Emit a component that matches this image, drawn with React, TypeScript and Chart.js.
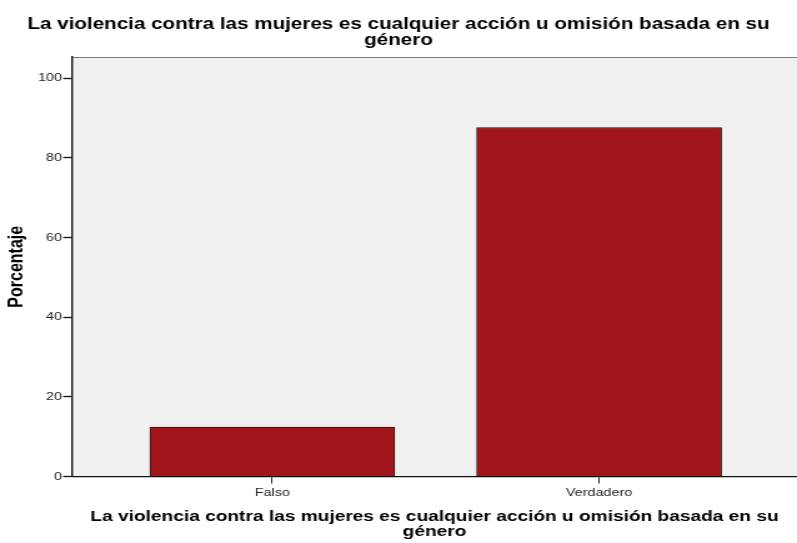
import React, { useEffect, useRef } from "react";
import { Chart, registerables } from "chart.js";

Chart.register(...registerables);

const TITLE_LINES = [
  "La violencia contra las mujeres es cualquier acción u omisión basada en su",
  "género",
];
const X_TITLE_LINES = [
  "La violencia contra las mujeres es cualquier acción u omisión basada en su",
  "género",
];
const Y_TITLE = "Porcentaje";
const CATEGORIES = ["Falso", "Verdadero"];
const PERCENTS = [12.4, 87.6];
const Y_TICKS = [0, 20, 40, 60, 80, 100];

const CSS_W = 797;
const CSS_H = 543;
const STRETCH = 1.25;
const W = Math.round(CSS_W / STRETCH);
const FONT = "'Liberation Sans', Arial, sans-serif";

const plotBg = {
  id: "plotBg",
  beforeDraw(chart: any) {
    const { ctx, chartArea } = chart;
    if (!chartArea) return;
    ctx.save();
    ctx.fillStyle = "#f0f0f0";
    ctx.fillRect(chartArea.left, chartArea.top, chartArea.right - chartArea.left, chartArea.bottom - chartArea.top);
    ctx.strokeStyle = "#7a7a7a";
    ctx.lineWidth = 1.2;
    ctx.beginPath();
    ctx.moveTo(chartArea.left, chartArea.top + 0.5);
    ctx.lineTo(chartArea.right, chartArea.top + 0.5);
    ctx.stroke();
    ctx.restore();
  },
};

export default function App() {
  const ref = useRef<HTMLCanvasElement | null>(null);

  useEffect(() => {
    document.body.style.margin = "0";
    const canvas = ref.current;
    if (!canvas) return;
    const chart = new Chart(canvas, {
      type: "bar",
      data: {
        datasets: [
          {
            data: CATEGORIES.map((_, i) => ({ x: i, y: PERCENTS[i] })),
            backgroundColor: "#a1161b",
            borderColor: "#2a1414",
            borderWidth: 1,
            barThickness: 196,
          },
        ],
      },
      plugins: [plotBg],
      options: {
        responsive: false,
        animation: false,
        devicePixelRatio: 1,
        layout: { padding: 0 },
        plugins: {
          legend: { display: false },
          tooltip: { enabled: false },
          title: {
            display: true,
            text: TITLE_LINES,
            color: "#000",
            font: { family: FONT, size: 16.5, weight: "bold", lineHeight: "16px" },
            padding: { top: 16, bottom: 9 },
          },
        },
        scales: {
          x: {
            type: "linear",
            offset: false,
            min: -0.613,
            max: 1.6055,
            afterBuildTicks: (scale: any) => {
              scale.ticks = CATEGORIES.map((_, i) => ({ value: i }));
            },
            afterFit: (scale: any) => {
              scale.height = 66.5;
            },
            ticks: {
              autoSkip: false,
              maxRotation: 0,
              padding: 2,
              color: "#222",
              font: { family: FONT, size: 11.5 },
              callback: (v: any) => CATEGORIES[v] ?? "",
            },
            grid: {
              display: true,
              offset: false,
              drawOnChartArea: false,
              drawTicks: true,
              tickLength: 7,
              tickWidth: 1,
              tickColor: "#222",
            },
            border: { display: true, color: "#111", width: 1.3 },
            title: {
              display: true,
              text: X_TITLE_LINES,
              color: "#000",
              font: { family: FONT, size: 15.3, weight: "bold", lineHeight: "15.5px" },
              padding: { top: 0, bottom: 3.25 },
            },
          },
          y: {
            min: 0,
            max: 105.3,
            afterBuildTicks: (scale: any) => {
              scale.ticks = Y_TICKS.map((v) => ({ value: v }));
            },
            afterFit: (scale: any) => {
              scale.width = 57.6;
            },
            ticks: {
              padding: 1,
              color: "#222",
              font: { family: FONT, size: 11.5 },
            },
            grid: {
              display: true,
              drawOnChartArea: false,
              drawTicks: true,
              tickLength: 7,
              tickWidth: 1.3,
              tickColor: "#111",
            },
            border: { display: true, color: "#111", width: 1.4 },
            title: {
              display: true,
              text: Y_TITLE,
              color: "#000",
              font: { family: FONT, size: 16, weight: "bold", lineHeight: 1.2 },
              padding: { top: 3.8, bottom: 0 },
            },
          },
        },
      },
    } as any);
    return () => chart.destroy();
  }, []);

  return (
    <canvas
      ref={ref}
      width={W}
      height={CSS_H}
      style={{ width: `${CSS_W}px`, height: `${CSS_H}px`, display: "block" }}
    />
  );
}
